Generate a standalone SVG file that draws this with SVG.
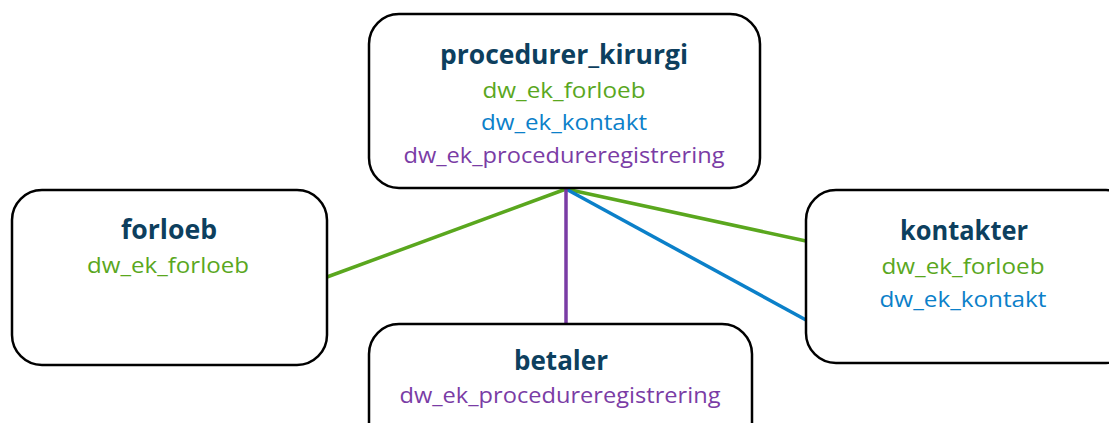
<svg xmlns="http://www.w3.org/2000/svg" width="1109" height="423" viewBox="0 0 1109 423">
<style>
.box{fill:#fff;stroke:#000;stroke-width:2.5}
.t{font-family:"Open Sans","Liberation Sans",sans-serif;text-anchor:middle}
.h{font-weight:bold;font-size:26px;fill:#0d3f5e}
.s{font-size:21px}
.g{fill:#5aa71e}.b{fill:#0b80c9}.p{fill:#7a3ca5}
.c{fill:none;stroke-width:3.5}
</style>
<rect width="1109" height="423" fill="#fff"/>
<g id="connectors">
<line class="c" x1="566" y1="189" x2="327" y2="277" stroke="#5aa71e"/>
<line class="c" x1="566" y1="189" x2="806" y2="241" stroke="#5aa71e"/>
<line class="c" x1="566" y1="189" x2="806" y2="320" stroke="#0b80c9"/>
<line class="c" x1="566" y1="189" x2="566" y2="324" stroke="#7a3ca5"/>
</g>
<g id="procedurer_kirurgi">
<rect class="box" x="369" y="14" width="391" height="174" rx="30"/>
<text class="t h" x="564" y="64" textLength="248" lengthAdjust="spacingAndGlyphs">procedurer_kirurgi</text>
<text class="t s g" x="564" y="98" textLength="163" lengthAdjust="spacingAndGlyphs">dw_ek_forloeb</text>
<text class="t s b" x="564" y="130" textLength="166" lengthAdjust="spacingAndGlyphs">dw_ek_kontakt</text>
<text class="t s p" x="564" y="163" textLength="321" lengthAdjust="spacingAndGlyphs">dw_ek_procedureregistrering</text>
</g>
<g id="forloeb">
<rect class="box" x="12" y="190" width="315" height="175" rx="30"/>
<text class="t h" x="169" y="239" textLength="96" lengthAdjust="spacingAndGlyphs">forloeb</text>
<text class="t s g" x="168" y="273" textLength="162" lengthAdjust="spacingAndGlyphs">dw_ek_forloeb</text>
</g>
<g id="kontakter">
<rect class="box" x="806" y="190" width="330" height="173" rx="30"/>
<text class="t h" x="964" y="240" textLength="128" lengthAdjust="spacingAndGlyphs">kontakter</text>
<text class="t s g" x="963" y="274" textLength="163" lengthAdjust="spacingAndGlyphs">dw_ek_forloeb</text>
<text class="t s b" x="963" y="307" textLength="167" lengthAdjust="spacingAndGlyphs">dw_ek_kontakt</text>
</g>
<g id="betaler">
<rect class="box" x="369" y="324" width="383" height="160" rx="30"/>
<text class="t h" x="561" y="370" textLength="94" lengthAdjust="spacingAndGlyphs">betaler</text>
<text class="t s p" x="560" y="403" textLength="321" lengthAdjust="spacingAndGlyphs">dw_ek_procedureregistrering</text>
</g>
</svg>
